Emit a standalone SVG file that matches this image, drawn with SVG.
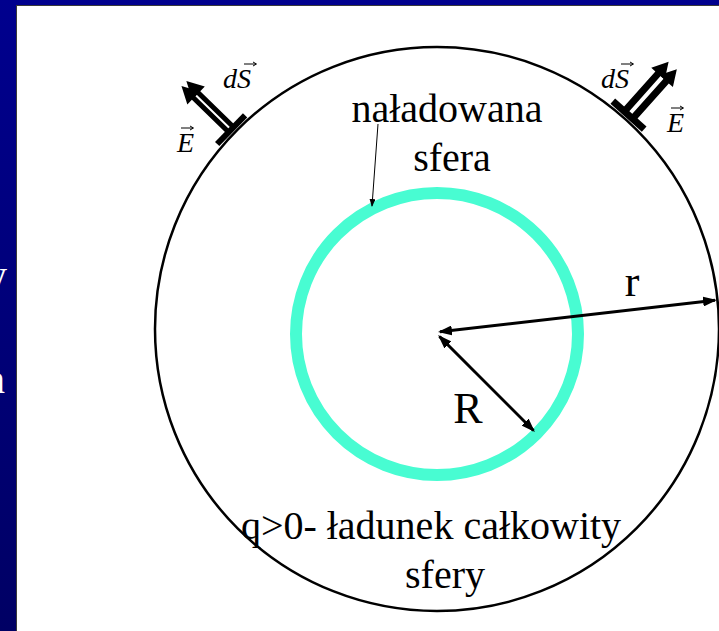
<svg xmlns="http://www.w3.org/2000/svg" width="719" height="631" viewBox="0 0 719 631">
  <defs>
    <linearGradient id="bg" x1="0" y1="0" x2="0" y2="1">
      <stop offset="0" stop-color="#00008e"/>
      <stop offset="1" stop-color="#000064"/>
    </linearGradient>
    <marker id="head" markerUnits="userSpaceOnUse" markerWidth="14" markerHeight="10" viewBox="0 0 14 10" refX="12" refY="5" orient="auto-start-reverse">
      <path d="M0,0 L14,5 L0,10 z" fill="#000"/>
    </marker>
    <marker id="headSmall" markerUnits="userSpaceOnUse" markerWidth="8" markerHeight="6" viewBox="0 0 8 6" refX="7" refY="3" orient="auto">
      <path d="M0,0 L8,3 L0,6 z" fill="#000"/>
    </marker>
  </defs>
  <style>
    .lbl { font-family: "Liberation Serif", "Times New Roman", serif; fill: #000; text-anchor: middle; }
    .big { font-size: 40px; }
    .rad { font-size: 44px; }
    .vec { font-family: "Liberation Serif", "Times New Roman", serif; font-style: italic; font-size: 28px; fill: #000; }
    .over { stroke: #000; stroke-width: 1; fill: none; }
    .bgtxt { font-family: "Liberation Serif", "Times New Roman", serif; font-size: 40px; fill: #fff; }
    .dim { stroke: #000; stroke-width: 3; fill: none; marker-start: url(#head); marker-end: url(#head); }
    .arrowfill { fill: #000; }
  </style>

  <!-- slide background -->
  <rect x="0" y="0" width="719" height="631" fill="url(#bg)"/>
  <text class="bgtxt" x="-13" y="288">y</text>
  <text class="bgtxt" x="-15" y="393">n</text>
  <rect x="16.5" y="5.5" width="720" height="640" fill="#fff" stroke="#3a3a3a" stroke-width="1"/>

  <!-- Gaussian surface -->
  <g id="gauss-surface">
    <circle cx="437" cy="329" r="282" fill="none" stroke="#000" stroke-width="2.5"/>
  </g>

  <!-- charged sphere -->
  <g id="charged-sphere">
    <circle cx="437" cy="334" r="141" fill="none" stroke="#48fcd2" stroke-width="12"/>
  </g>

  <!-- surface element top-left -->
  <g id="patch-left" transform="translate(234,132.5) rotate(-135.7)">
    <rect x="1" y="-20" width="6" height="40" class="arrowfill"/>
    <path class="arrowfill" d="M6,1 H53 V-5.5 L70,3.5 L53,12.5 V6 H6 Z"/>
    <path class="arrowfill" d="M6,-6 H53 V-12.5 L70,-3.5 L53,5.5 V-1 H6 Z"/>
  </g>
  <g id="label-dS-left">
    <text class="vec" x="223" y="88">dS</text>
    <path class="over" d="M244,64 H256 M253,62 L256.5,64 L253,66"/>
  </g>
  <g id="label-E-left">
    <text class="vec" x="177" y="152">E</text>
    <path class="over" d="M181,128 H193 M190,126 L193.5,128 L190,130"/>
  </g>

  <!-- surface element top-right -->
  <g id="patch-right" transform="translate(625.5,118.5) rotate(-48.3)">
    <rect x="1" y="-21" width="7" height="42" class="arrowfill"/>
    <path class="arrowfill" d="M6,2 H55 V-3.5 L71,5.5 L55,14.5 V9 H6 Z"/>
    <path class="arrowfill" d="M6,-9 H55 V-14.5 L71,-5.5 L55,3.5 V-2 H6 Z"/>
  </g>
  <g id="label-dS-right">
    <text class="vec" x="601" y="88">dS</text>
    <path class="over" d="M621,64 H633 M630,62 L633.5,64 L630,66"/>
  </g>
  <g id="label-E-right">
    <text class="vec" x="667" y="132">E</text>
    <path class="over" d="M671,108 H683 M680,106 L683.5,108 L680,110"/>
  </g>

  <!-- labels -->
  <g id="label-sphere">
    <text class="lbl big" x="447" y="122">naładowana</text>
    <text class="lbl big" x="452" y="171">sfera</text>
  </g>
  <g id="label-charge">
    <text class="lbl big" x="431" y="539">q&gt;0- ładunek całkowity</text>
    <text class="lbl big" x="445" y="588">sfery</text>
  </g>
  <g id="label-r">
    <text class="lbl rad" x="632" y="296">r</text>
  </g>
  <g id="label-R">
    <text class="lbl rad" x="468" y="423">R</text>
  </g>

  <!-- connectors -->
  <g id="connectors">
    <line class="dim" x1="440" y1="331.8" x2="715" y2="300.2"/>
    <line class="dim" x1="439.5" y1="336.5" x2="533.5" y2="430.5"/>
    <line x1="378" y1="124" x2="372" y2="206" stroke="#000" stroke-width="1" marker-end="url(#headSmall)"/>
  </g>
</svg>
